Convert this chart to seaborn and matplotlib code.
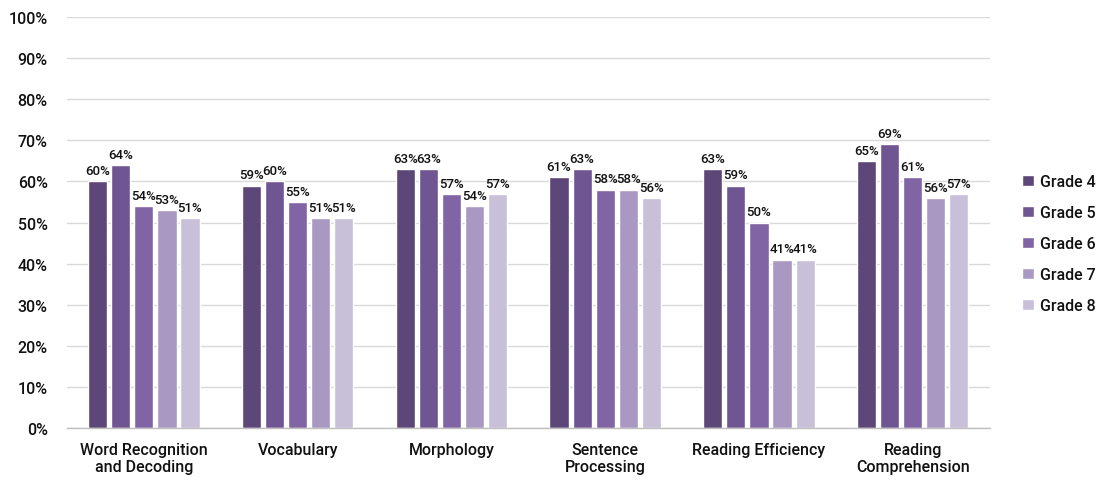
import matplotlib
matplotlib.use("Agg")
import matplotlib.pyplot as plt
import seaborn as sns
import pandas as pd

domains = [
    "Word Recognition\nand Decoding",
    "Vocabulary",
    "Morphology",
    "Sentence\nProcessing",
    "Reading Efficiency",
    "Reading\nComprehension",
]
grades = ["Grade 4", "Grade 5", "Grade 6", "Grade 7", "Grade 8"]

grade4 = [60, 59, 63, 61, 63, 65]
grade5 = [64, 60, 63, 63, 59, 69]
grade6 = [54, 55, 57, 58, 50, 61]
grade7 = [53, 51, 54, 58, 41, 56]
grade8 = [51, 51, 57, 56, 41, 57]

colors = ["#5c4778", "#6f5692", "#8164a3", "#a898c2", "#c8c0d9"]

series = [grade4, grade5, grade6, grade7, grade8]
rows = []
for g, vals in zip(grades, series):
    for d, v in zip(domains, vals):
        rows.append({"Domain": d, "Grade": g, "Percent": v})
df = pd.DataFrame(rows)

sns.set_theme(style="white")
plt.rcParams["font.family"] = ["Roboto", "DejaVu Sans"]
plt.rcParams["font.weight"] = 500
text_color = "#111111"

fig = plt.figure(figsize=(11.07, 4.81), dpi=100)
ax = fig.add_axes([0.0605, 0.108, 0.8335, 0.8546])

sns.barplot(
    data=df, x="Domain", y="Percent", hue="Grade",
    order=domains, hue_order=grades, palette=colors,
    width=0.75, gap=0.17, saturation=1, ax=ax, errorbar=None,
)

for cont in ax.containers:
    ax.bar_label(cont, labels=[f"{v:.0f}%" for v in cont.datavalues],
                 padding=3, fontsize=9.5, color=text_color)

ax.set_ylim(0, 100)
ax.set_yticks(range(0, 101, 10))
ax.set_yticklabels([f"{t}%" for t in range(0, 101, 10)], fontsize=11.5, color=text_color)
ax.set_xlim(-0.5, len(domains) - 0.5)
ax.tick_params(axis="x", labelsize=11.5, colors=text_color, length=0, pad=10)
ax.tick_params(axis="y", length=0, pad=14)
ax.set_xlabel("")
ax.set_ylabel("")

ax.yaxis.grid(True, color="#d9d9d9", linewidth=1)
ax.set_axisbelow(True)
for s in ["top", "right", "left"]:
    ax.spines[s].set_visible(False)
ax.spines["bottom"].set_color("#bfbfbf")
ax.spines["bottom"].set_linewidth(1)

ax.legend(
    loc="center left", bbox_to_anchor=(1.02, 0.448), frameon=False,
    fontsize=11.5, handlelength=0.7, handleheight=0.7, handletextpad=0.4,
    labelspacing=1.0, labelcolor=text_color,
)

fig.savefig("out.png", dpi=100)
